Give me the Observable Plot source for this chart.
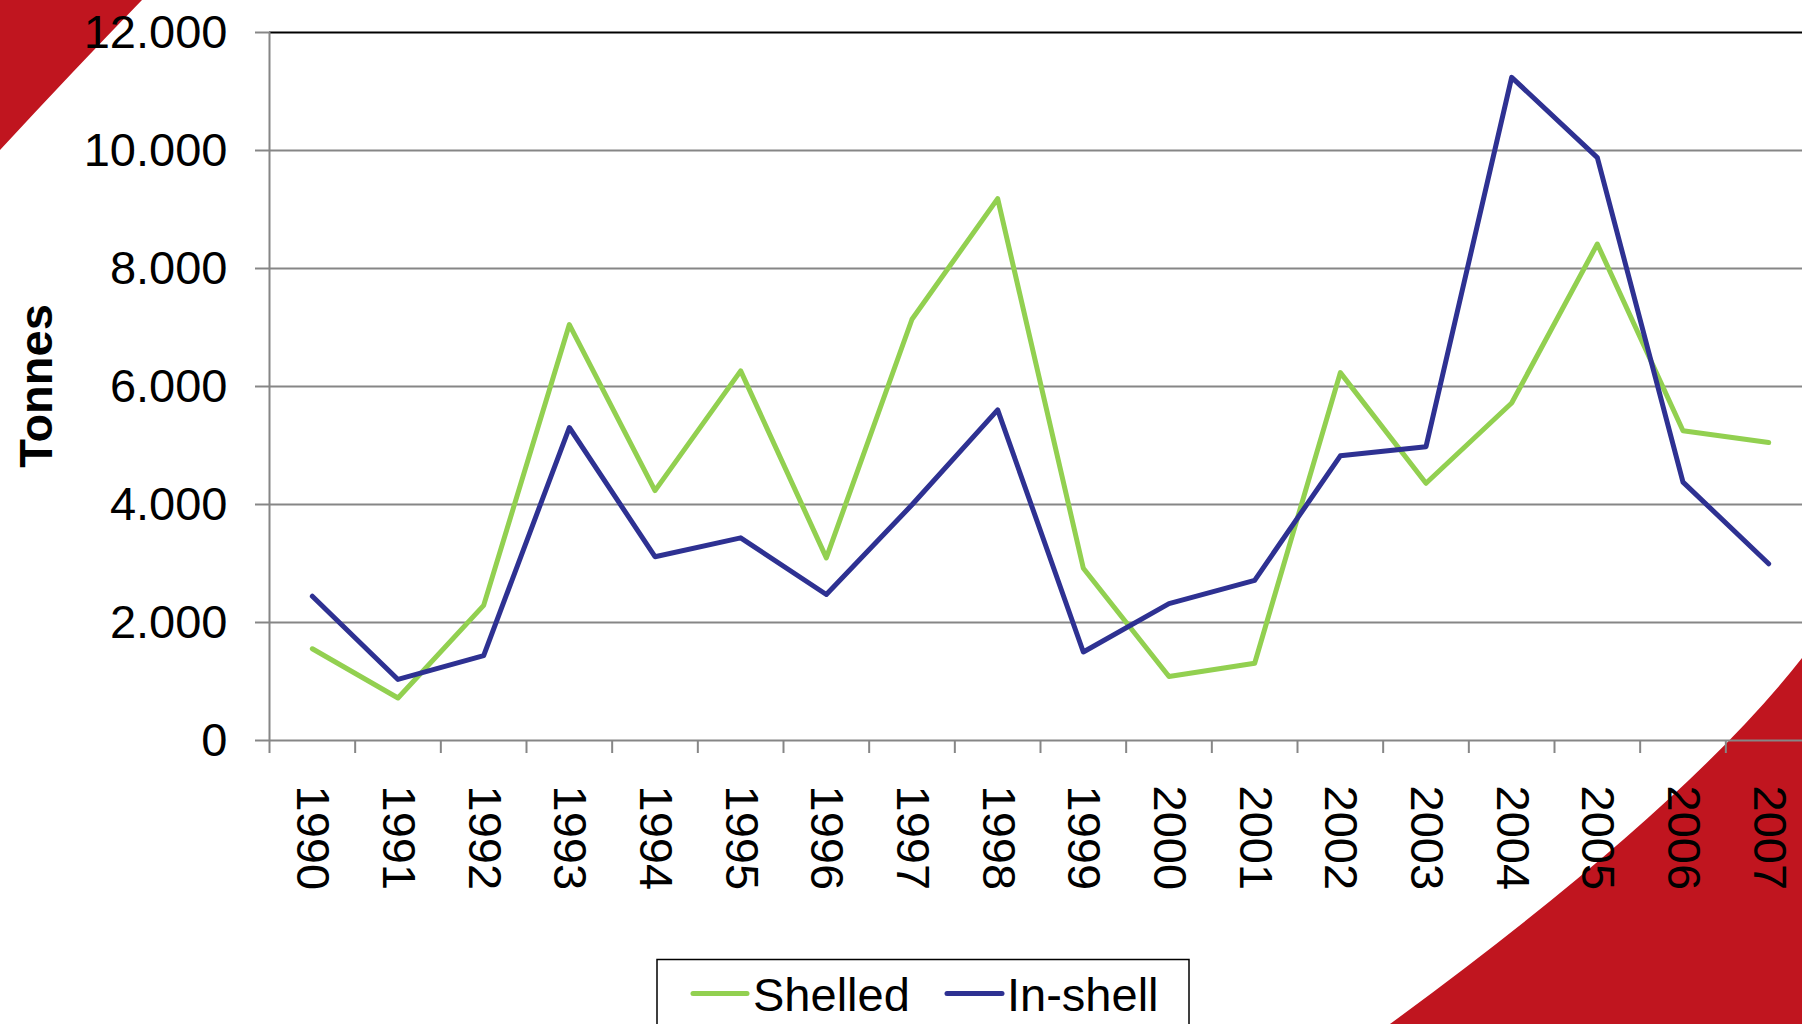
<!DOCTYPE html>
<html><head><meta charset="utf-8">
<script src="https://cdn.jsdelivr.net/npm/d3@7"></script>
<script src="https://cdn.jsdelivr.net/npm/@observablehq/plot@0.6"></script>
<style>
html,body{margin:0;padding:0;width:1802px;height:1024px;overflow:hidden;background:#fff;font-family:"Liberation Sans",Arial,sans-serif;}
#bg{position:absolute;left:0;top:0;}
#chart{position:absolute;left:0;top:0;}
#ylabel{position:absolute;left:35px;top:386px;transform:translate(-50%,-50%) rotate(-90deg);font-weight:bold;font-size:47px;white-space:nowrap;color:#000;}
#legend{position:absolute;left:0;top:0;}
</style></head><body>
<svg id="bg" width="1802" height="1024">
  <path d="M0,0 L142,0 Q74,70 0,150 Z" fill="#C0151F"/>
  <path d="M1802,658 Q1684,809 1390,1024 L1802,1024 Z" fill="#C0151F"/>
</svg>
<div id="chart"></div>
<div id="ylabel">Tonnes</div>
<svg id="legend" width="1802" height="1024"></svg>
<script>
const years = [1990,1991,1992,1993,1994,1995,1996,1997,1998,1999,2000,2001,2002,2003,2004,2005,2006,2007];
const shelled = [1555,720,2290,7050,4235,6265,3095,7140,9185,2920,1085,1310,6235,4360,5720,8415,5250,5050];
const inShell = [2445,1035,1440,5305,3115,3435,2475,3995,5605,1500,2320,2715,4825,4980,11240,9880,4380,2995];
const seriesNames = ["Shelled", "In-shell"];
const seriesColors = ["#92D050", "#2E3192"];
const yTicks = [0,2000,4000,6000,8000,10000,12000];
const yAxisTitle = "Tonnes";

const rows = [];
years.forEach((y, i) => {
  rows.push({year: y, value: shelled[i], series: seriesNames[0]});
  rows.push({year: y, value: inShell[i], series: seriesNames[1]});
});
const boundaries = years.map(y => y - 0.5);
const fmt = d => d3.format(",")(d).replace(/,/g, ".");
const grey = "#868686";

const chart = Plot.plot({
  width: 1812,
  height: 900,
  marginLeft: 269,
  marginRight: 1,
  marginTop: 32,
  marginBottom: 160,
  style: {background: "transparent", color: "#000", fontFamily: "'Liberation Sans', Arial, sans-serif", maxWidth: "none", overflow: "visible"},
  x: {type: "linear", domain: [years[0] - 0.5, years[years.length - 1] + 0.5]},
  y: {domain: [0, 12000]},
  marks: [
    Plot.ruleY(yTicks.slice(1, -1), {stroke: grey, strokeWidth: 2}),
    Plot.ruleY([yTicks[yTicks.length - 1]], {stroke: "#000", strokeWidth: 2}),
    Plot.ruleX([boundaries[0]], {stroke: grey, strokeWidth: 2}),
    Plot.ruleY([0], {stroke: grey, strokeWidth: 2}),
    Plot.axisY(yTicks, {tickSize: 14, tickPadding: 28, fontSize: 47, tickFormat: fmt, stroke: grey, strokeWidth: 2, label: null}),
    Plot.axisX(boundaries, {tickSize: 13, tickFormat: () => "", stroke: grey, strokeWidth: 2, label: null}),
    Plot.axisX(years, {tickSize: 0, tickPadding: 45, tickRotate: 90, fontSize: 47, tickFormat: d => String(d), label: null}),
    Plot.line(rows.filter(d => d.series === seriesNames[0]), {x: "year", y: "value", stroke: seriesColors[0], strokeWidth: 5, strokeLinejoin: "round", strokeLinecap: "round"}),
    Plot.line(rows.filter(d => d.series === seriesNames[1]), {x: "year", y: "value", stroke: seriesColors[1], strokeWidth: 5, strokeLinejoin: "round", strokeLinecap: "round"})
  ]
});
document.getElementById("chart").appendChild(chart);

// legend
const lg = d3.select("#legend");
lg.append("rect").attr("x", 657).attr("y", 959.5).attr("width", 532).attr("height", 120)
  .attr("fill", "#fff").attr("stroke", "#000").attr("stroke-width", 1.5);
const legendItems = [{sx: 693, ex: 747, tx: 753}, {sx: 947, ex: 1002, tx: 1007}];
legendItems.forEach((it, i) => {
  lg.append("line").attr("x1", it.sx).attr("x2", it.ex).attr("y1", 993.5).attr("y2", 993.5)
    .attr("stroke", seriesColors[i]).attr("stroke-width", 5).attr("stroke-linecap", "round");
  lg.append("text").attr("x", it.tx).attr("y", 1011).attr("font-size", 47)
    .attr("font-family", "'Liberation Sans', Arial, sans-serif").attr("fill", "#000").text(seriesNames[i]);
});
document.getElementById("ylabel").textContent = yAxisTitle;
</script>
</body></html>
